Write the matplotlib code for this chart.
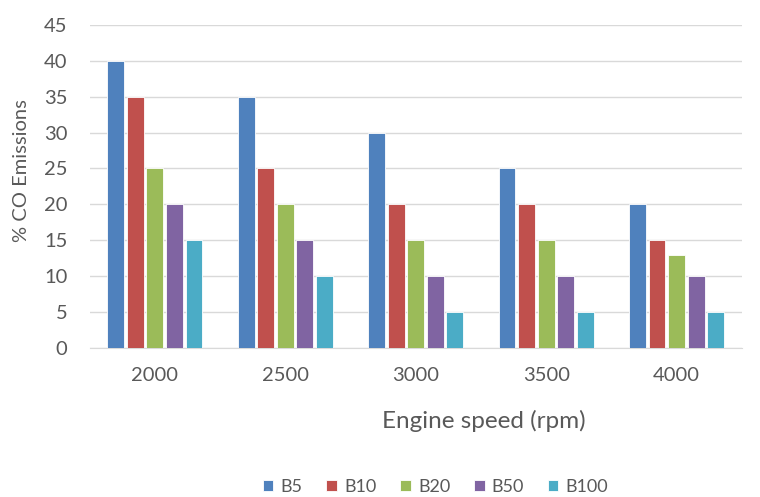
import numpy as np
import matplotlib
matplotlib.use("Agg")
from matplotlib import pyplot as plt

plt.rcParams['font.family'] = ['Lato', 'DejaVu Sans']

speeds = ["2000", "2500", "3000", "3500", "4000"]
blends = ["B5", "B10", "B20", "B50", "B100"]
b5 = [40, 35, 30, 25, 20]
b10 = [35, 25, 20, 20, 15]
b20 = [25, 20, 15, 15, 13]
b50 = [20, 15, 10, 10, 10]
b100 = [15, 10, 5, 5, 5]
colors = ["#4F81BD", "#C0504D", "#9BBB59", "#8064A2", "#4BACC6"]

series = [b5, b10, b20, b50, b100]
text_color = "#595959"

fig = plt.figure(figsize=(7.6, 4.97), dpi=100)
ax = fig.add_axes([0.118, 0.300, 0.858, 0.650])

x = np.arange(len(speeds))
step = 0.15
width = 0.13
for i, (name, vals, c) in enumerate(zip(blends, series, colors)):
    offs = (i - 2) * step
    ax.bar(x + offs, vals, width, color=c, label=name,
           edgecolor="white", linewidth=0.6, zorder=3)

ax.set_xlim(-0.5, len(speeds) - 0.5)
ax.set_ylim(0, 45)
ax.set_yticks(np.arange(0, 46, 5))
ax.set_xticks(x)
ax.set_xticklabels(speeds)
ax.grid(axis="y", color="#D9D9D9", linewidth=1, zorder=0)
ax.tick_params(length=0, labelsize=14.5, colors=text_color)
ax.tick_params(axis="x", pad=14)
ax.tick_params(axis="y", pad=16)
for side in ["top", "right", "left"]:
    ax.spines[side].set_visible(False)
ax.spines["bottom"].set_color("#D9D9D9")

ax.set_ylabel("% CO Emissions", fontsize=14.5, color=text_color)
ax.yaxis.set_label_coords(-0.091, 0.55)
fig.text(0.637, 0.153, "Engine speed (rpm)", fontsize=17.5,
         color=text_color, ha="center", va="center")

leg = fig.legend(loc="center", bbox_to_anchor=(0.573, 0.02), ncol=5,
                 frameon=False, fontsize=13, handlelength=0.6,
                 handleheight=0.6, handletextpad=0.4, columnspacing=1.3)
for t in leg.get_texts():
    t.set_color(text_color)

fig.savefig("out.png", dpi=100)
